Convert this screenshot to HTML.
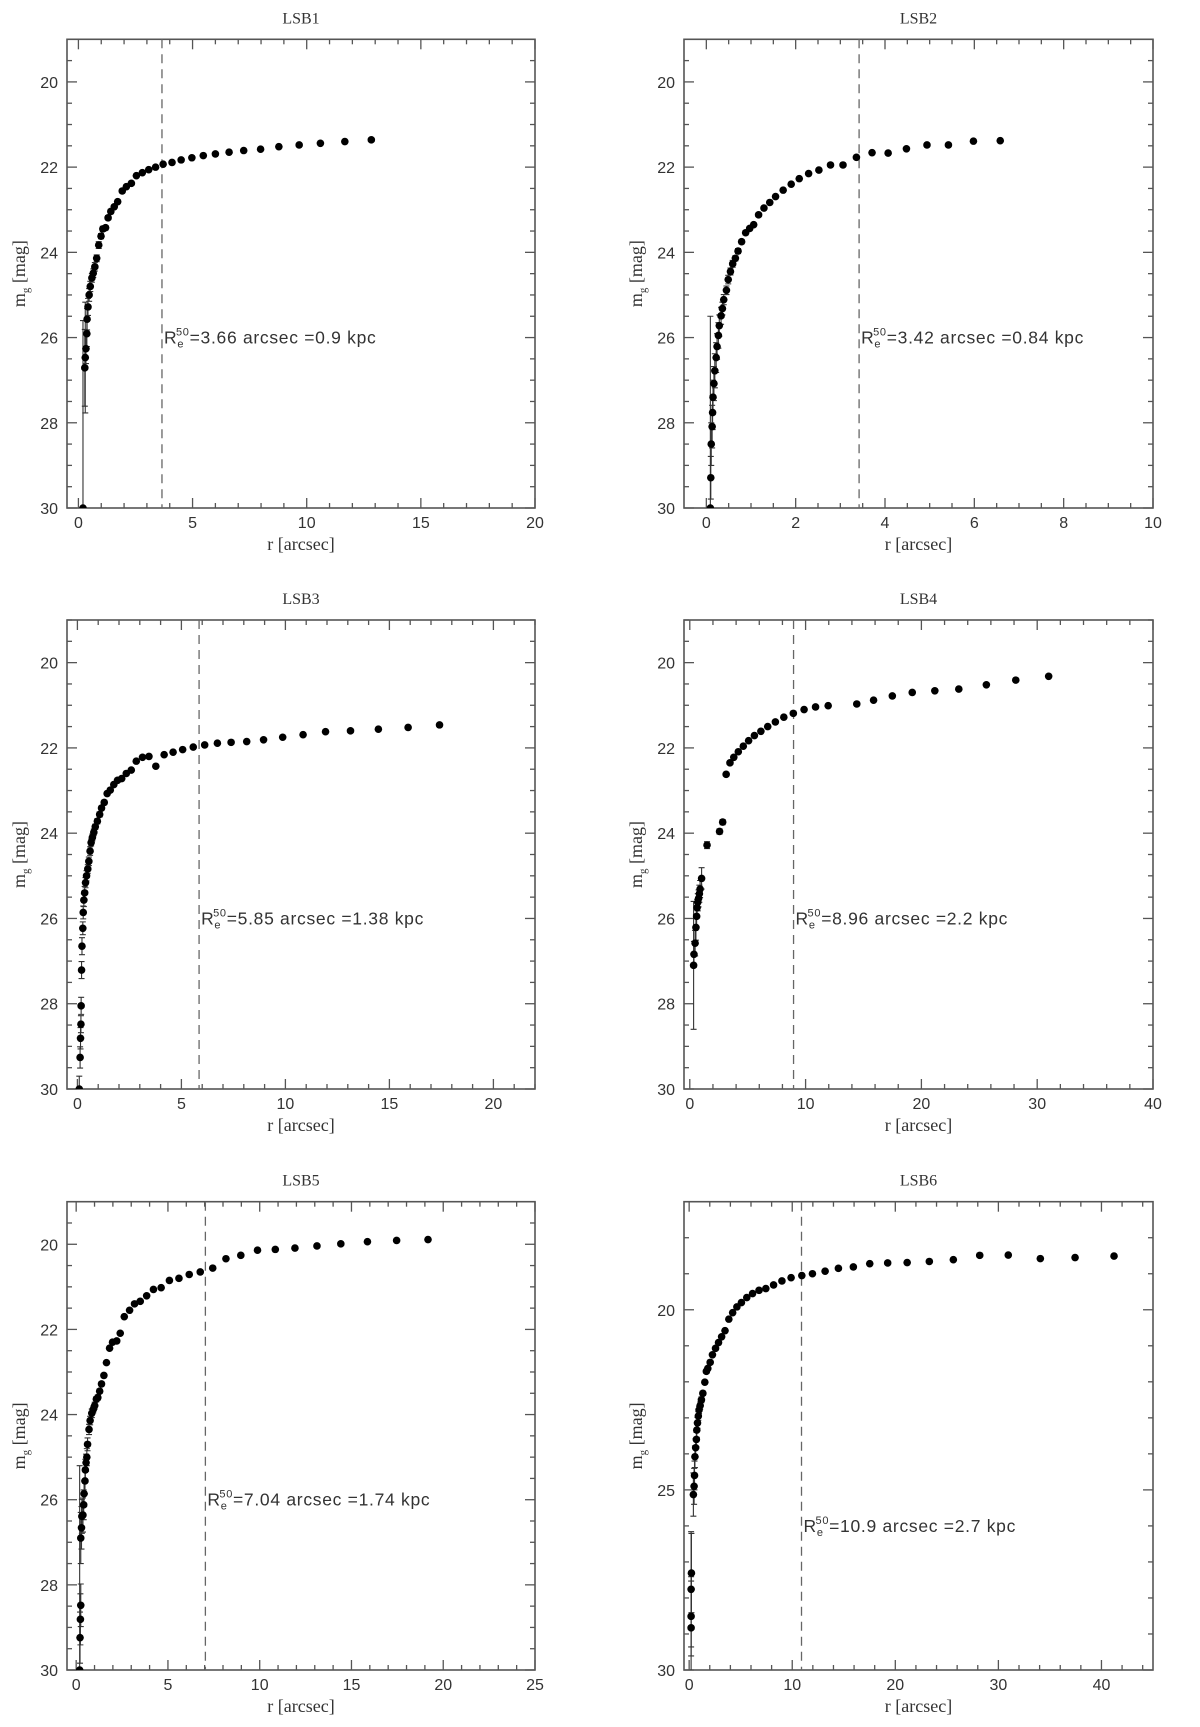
<!DOCTYPE html>
<html><head><meta charset="utf-8"><title>LSB growth curves</title>
<style>
html,body{margin:0;padding:0;background:#fff;overflow:hidden;width:1200px;height:1727px;}
svg{display:block;}
text{font-family:"Liberation Sans",sans-serif;fill:#333;}
.title{font-family:"Liberation Serif",serif;font-size:16px;}
.tick{font-size:16px;}
.lab{font-family:"Liberation Serif",serif;font-size:18px;}
.ann{font-size:17.5px;letter-spacing:0.7px;}
</style></head>
<body>
<svg id="fig" width="1200" height="1727" viewBox="0 0 1200 1727" xmlns="http://www.w3.org/2000/svg"></svg>
<script>
// ---- data ----
const lsb1R=[0.2,0.28,0.3,0.33,0.37,0.38,0.42,0.47,0.52,0.59,0.65,0.72,0.8,0.89,0.99,1.07,1.19,1.3,1.42,1.57,1.72,1.92,2.1,2.32,2.54,2.8,3.08,3.38,3.71,4.1,4.5,4.97,5.47,6.0,6.6,7.24,7.98,8.78,9.67,10.6,11.67,12.83];
const lsb1M=[30,26.71,26.47,26.26,25.91,25.57,25.28,25.0,24.8,24.6,24.49,24.34,24.14,23.83,23.62,23.45,23.42,23.19,23.04,22.93,22.81,22.56,22.46,22.38,22.2,22.13,22.06,22.0,21.93,21.89,21.83,21.78,21.73,21.69,21.65,21.61,21.58,21.52,21.48,21.44,21.40,21.36];
const lsb1E=[4.4,0.9,1.3,0.35,0.3,0.25,0.2,0.15,0.12,0.1,0.1,0.1,0.08,0.08,0.06,0.06,0.05,0.05,0.05,0.04,0.04,0.04,0.03,0.03,0.03,0.03,0.03,0.03,0.03,0.03,0.03,0.03,0.03,0.03,0.03,0.03,0.03,0.03,0.03,0.03,0.03,0.03];

const lsb2R=[0.09,0.10,0.11,0.13,0.14,0.15,0.17,0.19,0.22,0.24,0.27,0.29,0.33,0.36,0.39,0.45,0.49,0.54,0.59,0.65,0.71,0.79,0.88,0.97,1.06,1.17,1.29,1.42,1.55,1.72,1.9,2.08,2.29,2.52,2.78,3.06,3.36,3.71,4.07,4.48,4.94,5.42,5.98,6.58];
const lsb2M=[30,29.29,28.5,28.09,27.76,27.4,27.08,26.78,26.47,26.21,25.95,25.72,25.49,25.32,25.11,24.89,24.64,24.45,24.27,24.14,23.97,23.75,23.54,23.44,23.35,23.12,22.96,22.83,22.69,22.54,22.4,22.27,22.15,22.07,21.95,21.95,21.77,21.66,21.67,21.57,21.48,21.48,21.39,21.38];
const lsb2E=[4.5,0.5,0.5,0.5,0.4,0.4,0.4,0.4,0.35,0.3,0.3,0.25,0.2,0.15,0.12,0.1,0.1,0.08,0.08,0.06,0.06,0.05,0.05,0.04,0.04,0.04,0.03,0.03,0.03,0.03,0.03,0.03,0.03,0.03,0.03,0.03,0.03,0.03,0.03,0.03,0.03,0.03,0.03,0.03];

const lsb3R=[0.09,0.13,0.15,0.17,0.18,0.2,0.22,0.26,0.28,0.31,0.35,0.39,0.44,0.5,0.55,0.61,0.66,0.72,0.79,0.86,0.96,1.07,1.16,1.29,1.43,1.58,1.75,1.93,2.13,2.35,2.59,2.83,3.13,3.44,3.77,4.17,4.6,5.06,5.57,6.12,6.73,7.39,8.14,8.95,9.87,10.85,11.93,13.13,14.47,15.9,17.41];
const lsb3M=[30,29.26,28.81,28.48,28.05,27.21,26.65,26.23,25.86,25.57,25.4,25.16,25.0,24.84,24.66,24.42,24.22,24.1,23.98,23.85,23.72,23.56,23.41,23.28,23.07,22.99,22.86,22.76,22.72,22.6,22.52,22.31,22.22,22.2,22.43,22.16,22.1,22.04,21.98,21.93,21.89,21.87,21.85,21.81,21.75,21.69,21.62,21.6,21.56,21.52,21.46];
const lsb3E=[0.3,0.25,0.25,0.2,0.2,0.2,0.2,0.15,0.15,0.15,0.15,0.12,0.12,0.1,0.1,0.1,0.08,0.08,0.08,0.06,0.06,0.06,0.05,0.05,0.04,0.04,0.04,0.03,0.03,0.03,0.03,0.03,0.03,0.03,0.03,0.03,0.03,0.03,0.03,0.03,0.03,0.03,0.03,0.03,0.03,0.03,0.03,0.03,0.03,0.03,0.03];

const lsb4R=[0.33,0.36,0.46,0.53,0.59,0.63,0.69,0.76,0.83,0.89,1.02,1.49,2.57,2.84,3.14,3.47,3.8,4.19,4.62,5.08,5.58,6.14,6.73,7.39,8.12,8.94,9.87,10.86,11.95,14.42,15.87,17.49,19.21,21.16,23.23,25.61,28.15,30.99];
const lsb4M=[27.1,26.84,26.58,26.21,25.95,25.75,25.62,25.53,25.42,25.31,25.06,24.28,23.96,23.74,22.62,22.35,22.22,22.09,21.96,21.83,21.71,21.61,21.5,21.39,21.28,21.19,21.1,21.04,21.01,20.97,20.88,20.78,20.7,20.66,20.62,20.52,20.41,20.32];
const lsb4E=[1.5,0.3,0.3,0.3,0.25,0.2,0.2,0.2,0.2,0.2,0.25,0.08,0.06,0.06,0.03,0.03,0.03,0.03,0.03,0.03,0.03,0.03,0.03,0.03,0.03,0.03,0.03,0.03,0.03,0.03,0.03,0.03,0.03,0.03,0.03,0.03,0.03,0.03];

const lsb5R=[0.19,0.21,0.23,0.25,0.25,0.29,0.31,0.37,0.41,0.43,0.48,0.5,0.54,0.58,0.62,0.7,0.76,0.85,0.93,1.01,1.1,1.18,1.28,1.38,1.51,1.65,1.82,1.98,2.21,2.4,2.62,2.91,3.18,3.49,3.84,4.21,4.63,5.08,5.6,6.16,6.76,7.44,8.16,8.97,9.88,10.85,11.92,13.12,14.42,15.87,17.46,19.17];
const lsb5M=[30,29.24,28.81,28.48,26.9,26.66,26.39,26.36,26.12,25.86,25.56,25.3,25.13,25.0,24.7,24.35,24.14,23.97,23.88,23.79,23.64,23.6,23.45,23.28,23.08,22.78,22.44,22.3,22.27,22.09,21.7,21.55,21.4,21.34,21.21,21.06,21.02,20.85,20.8,20.71,20.65,20.56,20.34,20.26,20.14,20.12,20.09,20.04,19.99,19.94,19.91,19.89];
const lsb5E=[4.8,0.6,0.6,0.5,0.6,0.5,0.4,0.4,0.35,0.3,0.3,0.25,0.2,0.2,0.15,0.12,0.1,0.1,0.08,0.08,0.06,0.06,0.05,0.05,0.04,0.04,0.03,0.03,0.03,0.03,0.03,0.03,0.03,0.03,0.03,0.03,0.03,0.03,0.03,0.03,0.03,0.03,0.03,0.03,0.03,0.03,0.03,0.03,0.03,0.03,0.03,0.03];

const lsb6R=[0.19,0.19,0.19,0.22,0.41,0.48,0.52,0.56,0.63,0.7,0.74,0.81,0.89,0.96,1.07,1.19,1.33,1.52,1.67,1.81,2.04,2.26,2.56,2.85,3.15,3.48,3.85,4.22,4.63,5.07,5.59,6.15,6.78,7.44,8.19,9.0,9.89,10.93,11.96,13.19,14.48,15.93,17.52,19.26,21.15,23.3,25.63,28.19,30.96,34.07,37.44,41.22];
const lsb6M=[28.83,28.51,27.76,27.31,25.13,24.9,24.6,24.08,23.83,23.6,23.34,23.14,22.95,22.78,22.66,22.5,22.32,22.01,21.71,21.63,21.46,21.25,21.07,20.91,20.75,20.58,20.26,20.08,19.92,19.8,19.66,19.55,19.46,19.41,19.31,19.2,19.11,19.05,19.0,18.93,18.85,18.81,18.72,18.7,18.69,18.66,18.61,18.49,18.48,18.58,18.55,18.51];
const lsb6E=[1.3,1.1,1.6,1.1,0.6,0.5,0.4,0.3,0.25,0.2,0.2,0.15,0.12,0.1,0.1,0.08,0.06,0.05,0.05,0.04,0.04,0.03,0.03,0.03,0.03,0.03,0.03,0.03,0.03,0.03,0.03,0.03,0.03,0.03,0.03,0.03,0.03,0.03,0.03,0.03,0.03,0.03,0.03,0.03,0.03,0.03,0.03,0.03,0.03,0.03,0.03,0.03];

const panelNames=["LSB1","LSB2","LSB3","LSB4","LSB5","LSB6"];
const effRadius=[3.66,3.42,5.85,8.96,7.04,10.9];
const effRadiusText=["3.66","3.42","5.85","8.96","7.04","10.9"];
const effKpcText=["0.9","0.84","1.38","2.2","1.74","2.7"];
const xMaxes=[20,10,22,40,25,45];
const yMins=[19,19,19,19,19,17];
const xMajor=[5,2,5,10,5,10];
const xMinor=[1,0.5,1,2,1,2];
const yMajor=[2,2,2,2,2,5];
const yMinor=[0.5,0.5,0.5,0.5,0.5,1];
const seriesR=[lsb1R,lsb2R,lsb3R,lsb4R,lsb5R,lsb6R];
const seriesM=[lsb1M,lsb2M,lsb3M,lsb4M,lsb5M,lsb6M];
const seriesE=[lsb1E,lsb2E,lsb3E,lsb4E,lsb5E,lsb6E];

// ---- layout ----
const colL=[67,684], colR=[535,1153];
const rowT=[39.3,620,1201.7], rowB=[508,1089,1670];
const NS="http://www.w3.org/2000/svg";
const svg=document.getElementById('fig');
function mk(tag,attrs,parent){const e=document.createElementNS(NS,tag);for(const k in attrs)e.setAttribute(k,attrs[k]);(parent||svg).appendChild(e);return e;}
function fmt(v){return (Math.round(v*1000)/1000).toString();}

for(let p=0;p<6;p++){
  const c=p%2, r=Math.floor(p/2);
  const L=colL[c],R=colR[c],T=rowT[r],B=rowB[r];
  const xmin=-0.5,xmax=xMaxes[p],ymin=yMins[p],ymax=30;
  const X=v=>L+(v-xmin)/(xmax-xmin)*(R-L);
  const Y=v=>T+(v-ymin)/(ymax-ymin)*(B-T);
  const g=mk('g',{});
  
  
  const cid='clip'+p;
  const cp=mk('clipPath',{id:cid},g);mk('rect',{x:L,y:T,width:R-L,height:B-T},cp);

  const t=mk('text',{x:(L+R)/2,y:T-16,'text-anchor':'middle',class:'title'},g);t.textContent=panelNames[p];
  
  

  const tk=mk('g',{stroke:'#555','stroke-width':1.3},g);
  
  
  for(let v=0;v<=xmax+1e-9;v+=xMinor[p]){
    const isMaj=Math.abs(v/xMajor[p]-Math.round(v/xMajor[p]))<1e-6;
    const len=isMaj?10:5;const x=X(v);
    mk('line',{x1:x,y1:B,x2:x,y2:B-len},tk);mk('line',{x1:x,y1:T,x2:x,y2:T+len},tk);
    if(isMaj){const lt=mk('text',{x:x,y:B+20,'text-anchor':'middle',class:'tick',stroke:'none'},g);lt.textContent=fmt(v);
      
      }
  }
  for(let v=Math.ceil(ymin/yMinor[p])*yMinor[p];v<=ymax+1e-9;v+=yMinor[p]){
    const isMaj=Math.abs(v/yMajor[p]-Math.round(v/yMajor[p]))<1e-6;
    const len=isMaj?10:5;const y=Y(v);
    mk('line',{x1:L,y1:y,x2:L+len,y2:y},tk);mk('line',{x1:R,y1:y,x2:R-len,y2:y},tk);
    if(isMaj){const lt=mk('text',{x:L-9,y:y+6,'text-anchor':'end',class:'tick'},g);lt.textContent=fmt(v);
      
      }
  }
  const fr=mk('rect',{x:L,y:T,width:R-L,height:B-T,fill:'none',stroke:'#555','stroke-width':1.6},g);
  
  

  const xl=mk('text',{x:(L+R)/2,y:B+42,'text-anchor':'middle',class:'lab'},g);xl.textContent='r [arcsec]';
  
  
  const yl=mk('text',{x:0,y:0,'text-anchor':'middle',class:'lab',transform:`translate(${L-42},${(T+B)/2}) rotate(-90)`},g);
  yl.innerHTML='m<tspan dy="4" font-size="11">g</tspan><tspan dy="-4"> [mag]</tspan>';
  
  

  const dl=mk('line',{x1:X(effRadius[p]),y1:T,x2:X(effRadius[p]),y2:B,stroke:'#666','stroke-width':1.3,'stroke-dasharray':'9,6'},g);
  
  
  const an=mk('text',{x:X(effRadius[p])+2,y:Y(26)+6,class:'ann'},g);
  an.innerHTML='R<tspan dy="4" font-size="11">e</tspan><tspan dy="-12" x="'+(X(effRadius[p])+14)+'" font-size="11">50</tspan><tspan dy="8">='+effRadiusText[p]+' arcsec =' + effKpcText[p]+' kpc</tspan>';
  
  

  const dg=mk('g',{'clip-path':`url(#${cid})`},g);
  
  
  const Rr=seriesR[p],Mm=seriesM[p],Ee=seriesE[p];
  for(let i=0;i<Rr.length;i++){
    const x=X(Rr[i]),y1=Y(Mm[i]-Ee[i]),y2=Y(Mm[i]+Ee[i]);
    const eb=mk('path',{d:`M${x},${y1}V${y2}M${x-3},${y1}H${x+3}M${x-3},${y2}H${x+3}`,stroke:'#333','stroke-width':1.1,fill:'none'},dg);
    
    
  }
  for(let i=0;i<Rr.length;i++){
    const pt=mk('circle',{cx:X(Rr[i]),cy:Y(Mm[i]),r:3.8,fill:'#000'},dg);
    
    
  }
}
</script>
</body></html>
